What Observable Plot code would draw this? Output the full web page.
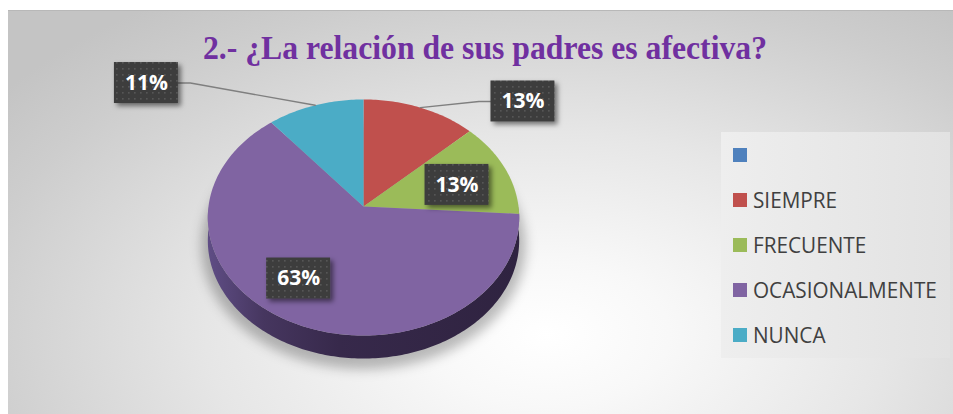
<!DOCTYPE html>
<html>
<head>
<meta charset="utf-8">
<script src="https://cdn.jsdelivr.net/npm/d3@7"></script>
<script src="https://cdn.jsdelivr.net/npm/@observablehq/plot@0.6"></script>
<style>
  html, body { margin: 0; padding: 0; background: #ffffff; }
  #wrap { position: relative; width: 953px; height: 414px; overflow: hidden; background: #ffffff; }
  #panel {
    position: absolute; left: 8px; top: 10px; width: 945px; height: 404px;
    border-top: 1px solid #b8b8b8;
    background: radial-gradient(ellipse 72% 100% at 57% 80%, #ffffff 0%, #f8f8f8 18%, #e6e6e6 50%, #cdcdcd 85%, #c4c4c4 100%);
  }
  #chart { position: absolute; left: 0; top: 0; }
  #overlay { position: absolute; left: 0; top: 0; pointer-events: none; }
</style>
</head>
<body>
<div id="wrap"><div id="panel"></div><div id="chart"></div></div>
<script>
// ---------------- data ----------------
const title = "2.- ¿La relación de sus padres es afectiva?";
const categories = ["", "SIEMPRE", "FRECUENTE", "OCASIONALMENTE", "NUNCA"];
const percents = [0, 13, 13, 63, 11];
const labelTexts = ["", "13%", "13%", "63%", "11%"];

// ---------------- style / layout ----------------
const palette = ["#4f81bd", "#c0504d", "#9bbb59", "#8064a2", "#4bacc6"];
const W = 953, H = 414;
const PIE = { cx: 363, cy: 206, rx: 155, ry: 117, k: 0.0932, depth: 23 };
// label placement (angle in degrees clockwise from top, radius relative to pie)
const labelPlace = [null, [48.9, 1.49], [73, 0.642], [214.2, 0.704], [307, 1.945]];
const BOX_W = 64, BOX_H = 41;

// perspective projection of a point on the pie disk into model units
function proj(thetaDeg, r) {
  const t = thetaDeg * Math.PI / 180;
  const u = r * Math.sin(t), v = r * Math.cos(t);
  const d = 1 + PIE.k * v;
  return [u / d, v / d];
}
const px2x = p => p / PIE.rx, px2y = p => p / PIE.ry;
const depthU = px2y(PIE.depth);

const total = d3.sum(percents);
const slices = [];
let acc = 0;
percents.forEach((p, i) => {
  const a0 = acc / total * 360; acc += p; const a1 = acc / total * 360;
  slices.push({ cat: categories[i], a0, a1, mid: (a0 + a1) / 2, label: labelTexts[i], i, p });
});

// top face polygons
const sliceRows = [];
slices.filter(s => s.p > 0).forEach(s => {
  const [ax, ay] = proj(0, 0);
  sliceRows.push({ cat: s.cat, x: ax, y: ay });
  const n = Math.max(2, Math.ceil(s.a1 - s.a0));
  for (let j = 0; j <= n; j++) {
    const [x, y] = proj(s.a0 + (s.a1 - s.a0) * j / n, 1);
    sliceRows.push({ cat: s.cat, x, y });
  }
  sliceRows.push({ cat: s.cat, x: ax, y: ay });
});

// side (front wall)
const sideRows = [];
for (let t = 90; t <= 270; t += 1) { const [x, y] = proj(t, 1); sideRows.push({ x, y }); }
for (let t = 270; t >= 90; t -= 1) { const [x, y] = proj(t, 1); sideRows.push({ x, y: y - depthU }); }

// soft shadow below pie
const shadowRows = [];
for (let t = 0; t <= 360; t += 2) { const [x, y] = proj(t, 1.04); shadowRows.push({ x, y: y - depthU - px2y(5) }); }

// labels and leader lines
const labelRows = [];
const leaderRows = [];
slices.forEach(s => {
  const pl = labelPlace[s.i];
  if (!pl || s.p <= 0) return;
  const [lx, ly] = proj(pl[0], pl[1]);
  labelRows.push({
    cat: s.cat, label: s.label, x: lx, y: ly,
    x1: lx - px2x(BOX_W / 2), x2: lx + px2x(BOX_W / 2),
    y1: ly - px2y(BOX_H / 2), y2: ly + px2y(BOX_H / 2)
  });
  if (pl[1] > 1) {
    const [ex, ey] = proj(s.mid, 1);
    const toRight = lx > ex;
    const boxEdge = toRight ? lx - px2x(BOX_W / 2) : lx + px2x(BOX_W / 2);
    const elbow = toRight ? boxEdge - px2x(12) : boxEdge + px2x(12);
    leaderRows.push({ cat: s.cat, x: ex, y: ey });
    leaderRows.push({ cat: s.cat, x: elbow, y: ly });
    leaderRows.push({ cat: s.cat, x: boxEdge, y: ly });
  }
});

const plot = Plot.plot({
  width: W, height: H,
  margin: 0,
  style: { background: "transparent", overflow: "visible" },
  x: { domain: [-PIE.cx / PIE.rx, (W - PIE.cx) / PIE.rx], axis: null },
  y: { domain: [-(H - PIE.cy) / PIE.ry, PIE.cy / PIE.ry], axis: null },
  color: { domain: categories, range: palette },
  marks: [
    Plot.line(shadowRows, { x: "x", y: "y", fill: "#000000", fillOpacity: 0.26, stroke: "none" }),
    Plot.line(sideRows, { x: "x", y: "y", fill: "url(#sideGrad)", stroke: "none" }),
    Plot.line(sliceRows, { x: "x", y: "y", z: "cat", fill: "cat", stroke: "none" }),
    Plot.line(leaderRows, { x: "x", y: "y", z: "cat", stroke: "#7f7f7f", strokeWidth: 1.4 }),
    Plot.rect(labelRows, { x1: "x1", x2: "x2", y1: "y1", y2: "y2", fill: "url(#dots)" }),
    Plot.text(labelRows, { x: "x", y: "y", text: "label", fill: "white", fontSize: 21, fontWeight: "bold", fontFamily: "Open Sans" })
  ]
});

const svg = d3.select(plot);
const defs = svg.insert("defs", ":first-child");
const g = defs.append("linearGradient").attr("id", "sideGrad").attr("x1", 0).attr("x2", 1).attr("y1", 0).attr("y2", 0);
[["0%", "#5f4d85"], ["18%", "#46365f"], ["42%", "#37294b"], ["100%", "#2f2340"]].forEach(([o, c]) =>
  g.append("stop").attr("offset", o).attr("stop-color", c));
const pat = defs.append("pattern").attr("id", "dots").attr("patternUnits", "userSpaceOnUse").attr("width", 6).attr("height", 6);
pat.append("rect").attr("width", 6).attr("height", 6).attr("fill", "#3d3d3d");
pat.append("rect").attr("x", 2).attr("y", 2).attr("width", 1.6).attr("height", 1.6).attr("fill", "#575757");
const fb = defs.append("filter").attr("id", "blur").attr("x", "-20%").attr("y", "-20%").attr("width", "140%").attr("height", "140%");
fb.append("feGaussianBlur").attr("stdDeviation", 6);
const fd = defs.append("filter").attr("id", "boxShadow").attr("x", "-20%").attr("y", "-20%").attr("width", "150%").attr("height", "150%");
fd.append("feDropShadow").attr("dx", 3).attr("dy", 3).attr("stdDeviation", 2.5).attr("flood-color", "#000").attr("flood-opacity", 0.5);
const markGroups = plot.querySelectorAll(":scope > g");
if (markGroups.length >= 6) {
  markGroups[0].setAttribute("filter", "url(#blur)");
  markGroups[4].setAttribute("filter", "url(#boxShadow)");
}

document.getElementById("chart").appendChild(plot);

// ---------------- title and legend overlay ----------------
const ov = d3.select("#wrap").append("svg").attr("id", "overlay").attr("width", W).attr("height", H);
ov.append("text")
  .attr("x", 203).attr("y", 59)
  .attr("font-family", "Liberation Serif, DejaVu Serif, serif")
  .attr("font-weight", "bold").attr("font-size", 34)
  .attr("fill", "#7030a0")
  .attr("textLength", 564).attr("lengthAdjust", "spacingAndGlyphs")
  .text(title);

const lgGrad = ov.append("defs").append("linearGradient").attr("id", "lgGrad").attr("x1", 0).attr("x2", 1);
lgGrad.append("stop").attr("offset", "0%").attr("stop-color", "#eeeeee");
lgGrad.append("stop").attr("offset", "100%").attr("stop-color", "#e2e2e2");
const lg = ov.append("g");
lg.append("rect").attr("x", 721).attr("y", 132).attr("width", 229).attr("height", 226).attr("fill", "url(#lgGrad)");
const items = lg.selectAll("g.item").data(categories).join("g").attr("class", "item")
  .attr("transform", (d, i) => `translate(733,${155 + i * 45})`);
items.append("rect").attr("x", 0).attr("y", -7).attr("width", 14).attr("height", 14).attr("fill", (d, i) => palette[i]);
const texts = items.append("text").attr("x", 20).attr("y", 7.5)
  .attr("font-family", "Open Sans, sans-serif").attr("font-size", 21).attr("fill", "#404040")
  .text(d => d);
const longest = texts.nodes()[3].getComputedTextLength();
const sx = longest > 0 ? 184 / longest : 1;
texts.attr("transform", `translate(20,0) scale(${sx},1) translate(-20,0)`);
</script>
</body>
</html>
